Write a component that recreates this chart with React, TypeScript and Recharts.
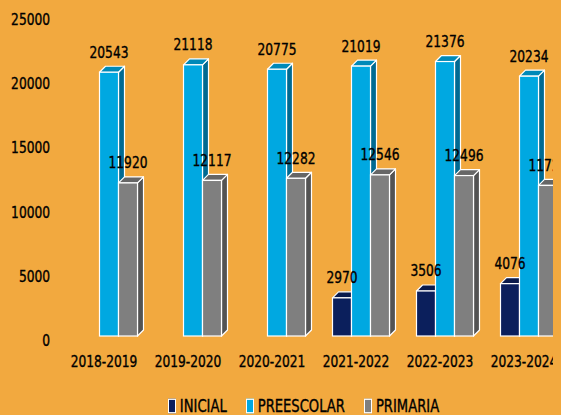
import React from "react";
import { BarChart, Bar, XAxis, YAxis, Legend, LabelList } from "recharts";

const categories = ["2018-2019", "2019-2020", "2020-2021", "2021-2022", "2022-2023", "2023-2024"];
const inicial: (number | null)[] = [null, null, null, 2970, 3506, 4076];
const preescolar = [20543, 21118, 20775, 21019, 21376, 20234];
const primaria = [11920, 12117, 12282, 12546, 12496, 11726];
const yTicks = [0, 5000, 10000, 15000, 20000, 25000];

const data = categories.map((c, i) => ({
  category: c,
  INICIAL: inicial[i],
  PREESCOLAR: preescolar[i],
  PRIMARIA: primaria[i],
}));

const FONT = "'DejaVu Sans Condensed', 'DejaVu Sans', sans-serif";
const FS = 13.6;
const SY = 1.22;
const BG = "#F2A93F";
const SHIFT = 4.5;
const D = 6;

const palette: Record<string, { front: string; top: string; side: string }> = {
  INICIAL: { front: "#0B1F5C", top: "#0A1A4C", side: "#06123A" },
  PREESCOLAR: { front: "#00A8E1", top: "#0089B8", side: "#006A92" },
  PRIMARIA: { front: "#7F7F7F", top: "#666666", side: "#535353" },
};

const makeShape = (key: string) => (props: any) => {
  const { x, y, width, height } = props;
  if (height == null || height <= 0 || isNaN(y)) return <g />;
  const c = palette[key];
  const fx = x + SHIFT;
  const w = width;
  const h = height;
  return (
    <g>
      <polygon
        points={`${fx + w},${y} ${fx + w + D},${y - D} ${fx + w + D},${y + h - D} ${fx + w},${y + h}`}
        fill={c.side}
        stroke="#FFFFFF"
        strokeWidth={1.2}
        strokeLinejoin="round"
      />
      <polygon
        points={`${fx},${y} ${fx + D},${y - D} ${fx + w + D},${y - D} ${fx + w},${y}`}
        fill={c.top}
        stroke="#FFFFFF"
        strokeWidth={1.2}
        strokeLinejoin="round"
      />
      <rect x={fx} y={y} width={w} height={h} fill={c.front} stroke="#FFFFFF" strokeWidth={1.2} />
    </g>
  );
};

const TallText = ({ x, y, anchor, children }: any) => (
  <g transform={`translate(${x},${y}) scale(1,${SY})`}>
    <text
      x={0}
      y={0}
      textAnchor={anchor}
      dominantBaseline="central"
      fontFamily={FONT}
      fontSize={FS}
      fill="#000000"
      stroke="#000000"
      strokeWidth={0.3}
    >
      {children}
    </text>
  </g>
);

const ValueLabel = (props: any) => {
  const { x, y, width, value } = props;
  if (value == null) return null;
  return (
    <TallText x={x + SHIFT + width / 2} y={y - 20} anchor="middle">
      {value}
    </TallText>
  );
};

const XTick = (props: any) => {
  const { x, y, payload } = props;
  return (
    <TallText x={x} y={y + 26} anchor="middle">
      {payload.value}
    </TallText>
  );
};

const YTick = (props: any) => {
  const { x, y, payload } = props;
  return (
    <TallText x={x} y={y + 4.5} anchor="end">
      {payload.value}
    </TallText>
  );
};

const seriesKeys = ["INICIAL", "PREESCOLAR", "PRIMARIA"];

const LegendContent = () => (
  <div
    style={{
      display: "flex",
      justifyContent: "center",
      alignItems: "center",
      height: 20,
      paddingLeft: 52,
      fontFamily: FONT,
      fontSize: 14.6,
      color: "#000",
      transform: `translateY(-2px) scaleY(${SY})`,
      transformOrigin: "center center",
      lineHeight: "16px",
      WebkitTextStroke: "0.3px #000",
    }}
  >
    {seriesKeys.map((k) => (
      <div key={k} style={{ display: "flex", alignItems: "center", marginRight: 19 }}>
        <span
          style={{
            display: "inline-block",
            width: 6,
            height: 10,
            background: palette[k].front,
            border: "1px solid #FFFFFF",
            marginRight: 4,
          }}
        />
        <span>{k}</span>
      </div>
    ))}
  </div>
);

export default function App() {
  return (
    <div style={{ background: BG, width: 558, height: 410 }}>
      <style>{`html,body{background:${BG};overflow:hidden;}`}</style>
      <BarChart
        width={558}
        height={410}
        data={data}
        margin={{ top: 7, right: 0, bottom: 0, left: 0 }}
        barSize={19}
        barGap={0}
      >
        <XAxis
          dataKey="category"
          axisLine={false}
          tickLine={false}
          tickSize={0}
          tickMargin={0}
          height={62}
          tick={<XTick />}
          interval={0}
        />
        <YAxis
          width={54}
          domain={[0, 25000]}
          ticks={yTicks}
          axisLine={false}
          tickLine={false}
          tickSize={0}
          tickMargin={12}
          tick={<YTick />}
          interval={0}
        />
        <Legend verticalAlign="bottom" content={<LegendContent />} />
        {seriesKeys.map((k) => (
          <Bar key={k} dataKey={k} fill={palette[k].front} shape={makeShape(k)} isAnimationActive={false}>
            <LabelList dataKey={k} content={<ValueLabel />} />
          </Bar>
        ))}
      </BarChart>
    </div>
  );
}
